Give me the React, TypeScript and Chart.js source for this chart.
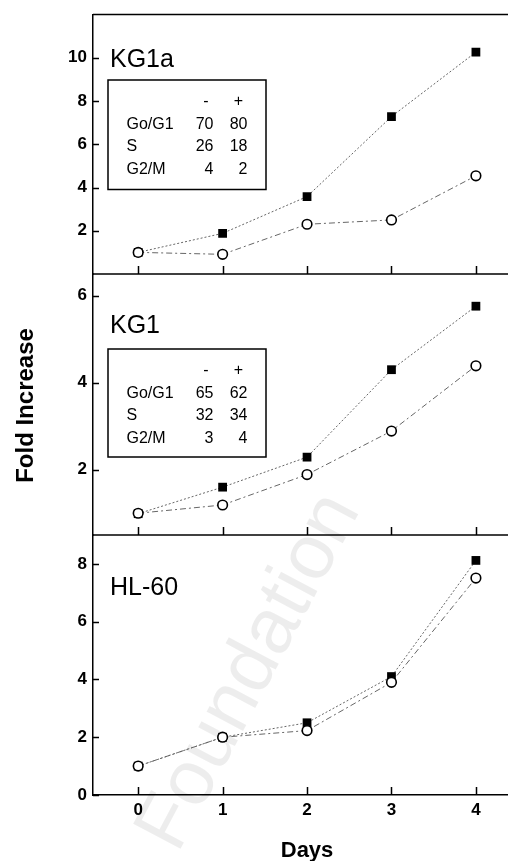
import React, { useEffect, useRef } from 'react';
import { Chart, registerables } from 'chart.js';

Chart.register(...registerables);

// ---------- data ----------
const DAYS = [0, 1, 2, 3, 4];
const X_TICKS = [0, 1, 2, 3, 4];

const KG1A_OPEN = [1.0, 0.91, 2.3, 2.5, 4.54];
const KG1A_FILLED = [1.0, 1.88, 3.58, 7.28, 10.26];
const KG1_OPEN = [1.0, 1.19, 1.89, 2.89, 4.39];
const KG1_FILLED = [0.99, 1.6, 2.29, 4.3, 5.76];
const HL60_OPEN = [1.0, 2.0, 2.23, 3.9, 7.51];
const HL60_FILLED = [1.0, 2.0, 2.5, 4.1, 8.12];

const KG1A_Y_TICKS = [2, 4, 6, 8, 10];
const KG1_Y_TICKS = [2, 4, 6];
const HL60_Y_TICKS = [0, 2, 4, 6, 8];

const TABLE_HEAD = ['-', '+'];
const PHASES = ['Go/G1', 'S', 'G2/M'];
const KG1A_PHASE_MINUS = [70, 26, 4];
const KG1A_PHASE_PLUS = [80, 18, 2];
const KG1_PHASE_MINUS = [65, 32, 3];
const KG1_PHASE_PLUS = [62, 34, 4];

const X_TITLE = 'Days';
const Y_TITLE = 'Fold Increase';
const WATERMARK = 'Foundation';

// ---------- layout ----------
const W = 508;
const H = 861;
const PLOT_LEFT = 93;
const FONT = "'Liberation Sans', Arial, Helvetica, sans-serif";

type Panel = {
  name: string;
  top: number;
  bottom: number;
  ymin: number;
  ymax: number;
  yTicks: number[];
  open: number[];
  filled: number[];
  labelY: number;
  table?: { top: number; h: number; minus: number[]; plus: number[] };
  drawTop?: boolean;
  xAxis?: boolean;
  z: number;
};

const PANELS: Panel[] = [
  {
    name: 'KG1a', top: 14.5, bottom: 274, ymin: 0, ymax: 12, yTicks: KG1A_Y_TICKS,
    open: KG1A_OPEN, filled: KG1A_FILLED, labelY: 60,
    table: { top: 80, h: 109.5, minus: KG1A_PHASE_MINUS, plus: KG1A_PHASE_PLUS },
    drawTop: true, z: 3,
  },
  {
    name: 'KG1', top: 274, bottom: 535, ymin: 0.5, ymax: 6.5, yTicks: KG1_Y_TICKS,
    open: KG1_OPEN, filled: KG1_FILLED, labelY: 326,
    table: { top: 349, h: 108, minus: KG1_PHASE_MINUS, plus: KG1_PHASE_PLUS },
    z: 2,
  },
  {
    name: 'HL-60', top: 535, bottom: 795, ymin: 0, ymax: 9, yTicks: HL60_Y_TICKS,
    open: HL60_OPEN, filled: HL60_FILLED, labelY: 588.5, xAxis: true, z: 1,
  },
];

function makePlugin(p: Panel) {
  return {
    id: 'panelDecor_' + p.name.replace(/[^a-z0-9]/gi, ''),
    beforeDraw(chart: any) {
      if (!p.xAxis) return;
      const ctx = chart.ctx;
      ctx.save();
      ctx.translate(250, 672);
      ctx.rotate((-62 * Math.PI) / 180);
      ctx.font = `78px ${FONT}`;
      ctx.fillStyle = 'rgba(0,0,0,0.07)';
      ctx.textAlign = 'center';
      ctx.textBaseline = 'middle';
      ctx.fillText(WATERMARK, 0, 0);
      ctx.restore();
    },
    afterDraw(chart: any) {
      const ctx = chart.ctx;
      const area = chart.chartArea;
      const xs = chart.scales.x;
      const ys = chart.scales.y;
      ctx.save();
      ctx.strokeStyle = '#000';
      ctx.fillStyle = '#000';
      ctx.lineWidth = 1.5;
      // frame lines
      ctx.beginPath();
      if (!p.xAxis) {
        ctx.moveTo(area.left, area.bottom);
        ctx.lineTo(area.right, area.bottom);
      }
      if (p.drawTop) {
        ctx.moveTo(area.left, area.top);
        ctx.lineTo(area.right, area.top);
      }
      ctx.stroke();
      // inward x ticks
      ctx.beginPath();
      X_TICKS.forEach((v) => {
        const px = Math.round(xs.getPixelForValue(v)) + 0.5;
        ctx.moveTo(px, area.bottom);
        ctx.lineTo(px, area.bottom - 8);
      });
      // inward y ticks
      ys.ticks.forEach((t: any) => {
        const py = Math.round(ys.getPixelForValue(t.value)) + 0.5;
        ctx.moveTo(area.left, py);
        ctx.lineTo(area.left + 6, py);
      });
      ctx.stroke();

      // panel label
      ctx.font = `25px ${FONT}`;
      ctx.textAlign = 'left';
      ctx.textBaseline = 'middle';
      ctx.fillText(p.name, 110, p.labelY);

      // inset table
      if (p.table) {
        const t = p.table;
        ctx.lineWidth = 1.5;
        ctx.strokeRect(108, t.top, 158, t.h);
        ctx.font = `16px ${FONT}`;
        ctx.textBaseline = 'middle';
        const rowY = [21.5, 44.5, 67, 90].map((d) => t.top + d);
        ctx.textAlign = 'center';
        ctx.fillText(TABLE_HEAD[0], 206, rowY[0]);
        ctx.fillText(TABLE_HEAD[1], 238.5, rowY[0]);
        PHASES.forEach((ph, i) => {
          ctx.textAlign = 'left';
          ctx.fillText(ph, 126.5, rowY[i + 1]);
          ctx.textAlign = 'right';
          ctx.fillText(String(t.minus[i]), 213.5, rowY[i + 1]);
          ctx.fillText(String(t.plus[i]), 247.5, rowY[i + 1]);
        });
      }

      // axis titles
      if (p.xAxis) {
        ctx.font = `bold 22px ${FONT}`;
        ctx.textAlign = 'center';
        ctx.textBaseline = 'alphabetic';
        const cx = (xs.getPixelForValue(X_TICKS[0]) + xs.getPixelForValue(X_TICKS[X_TICKS.length - 1])) / 2;
        ctx.fillText(X_TITLE, cx, 857);
      }
      if (p.name === 'KG1') {
        ctx.save();
        ctx.translate(33, 405.5);
        ctx.rotate(-Math.PI / 2);
        ctx.font = `bold 24px ${FONT}`;
        ctx.textAlign = 'center';
        ctx.textBaseline = 'alphabetic';
        ctx.fillText(Y_TITLE, 0, 0);
        ctx.restore();
      }
      ctx.restore();
    },
  };
}

function PanelChart({ p }: { p: Panel }) {
  const ref = useRef<HTMLCanvasElement | null>(null);
  useEffect(() => {
    if (!ref.current) return;
    const toXY = (arr: number[]) => DAYS.map((d, i) => ({ x: d, y: arr[i] }));
    const chart = new Chart(ref.current, {
      type: 'line',
      data: {
        datasets: [
          {
            label: 'open',
            data: toXY(p.open),
            borderColor: '#666',
            borderWidth: 1,
            borderDash: [6, 3, 2, 3],
            pointStyle: 'circle',
            pointRadius: 4.8,
            pointBackgroundColor: '#fff',
            pointBorderColor: '#000',
            pointBorderWidth: 1.6,
            fill: false,
            tension: 0,
          },
          {
            label: 'filled',
            data: toXY(p.filled),
            borderColor: '#666',
            borderWidth: 1,
            borderDash: [2, 2],
            pointStyle: 'rect',
            pointRadius: 6.2,
            pointBackgroundColor: '#000',
            pointBorderColor: '#000',
            pointBorderWidth: 0,
            fill: false,
            tension: 0,
          },
        ],
      },
      options: {
        animation: false,
        responsive: false,
        maintainAspectRatio: false,
        events: [],
        layout: {
          autoPadding: false,
          padding: { left: 0, right: 0, top: p.top, bottom: p.xAxis ? 0 : H - p.bottom },
        },
        plugins: { legend: { display: false }, tooltip: { enabled: false }, title: { display: false } },
        scales: {
          x: {
            type: 'linear',
            min: -0.535,
            max: 4.38,
            display: !!p.xAxis,
            afterBuildTicks: (s: any) => { s.ticks = X_TICKS.map((v) => ({ value: v })); },
            afterFit: (s: any) => { if (p.xAxis) s.height = H - p.bottom; },
            grid: { display: false, drawTicks: false },
            border: { display: true, color: '#000', width: 1.5 },
            ticks: {
              color: '#000',
              font: { family: FONT, size: 17, weight: 'bold', lineHeight: 1 },
              padding: 6.5,
              maxRotation: 0,
              autoSkip: false,
            },
            title: { display: false },
          },
          y: {
            type: 'linear',
            min: p.ymin,
            max: p.ymax,
            afterBuildTicks: (s: any) => { s.ticks = p.yTicks.map((v) => ({ value: v })); },
            afterFit: (s: any) => { s.width = PLOT_LEFT; },
            grid: { display: false, drawTicks: false },
            border: { display: true, color: '#000', width: 1.5 },
            ticks: {
              color: '#000',
              font: { family: FONT, size: 17, weight: 'bold', lineHeight: 1 },
              padding: 6,
              autoSkip: false,
            },
            title: { display: false },
          },
        },
      },
      plugins: [makePlugin(p)],
    } as any);
    return () => chart.destroy();
  }, [p]);
  return (
    <canvas
      ref={ref}
      width={W}
      height={H}
      style={{ position: 'absolute', left: 0, top: 0, width: W, height: H, zIndex: p.z }}
    />
  );
}

export default function App() {
  return (
    <div style={{ position: 'absolute', left: 0, top: 0, width: W, height: H, background: '#fff', overflow: 'hidden' }}>
      {PANELS.map((p) => (
        <PanelChart key={p.name} p={p} />
      ))}
    </div>
  );
}
